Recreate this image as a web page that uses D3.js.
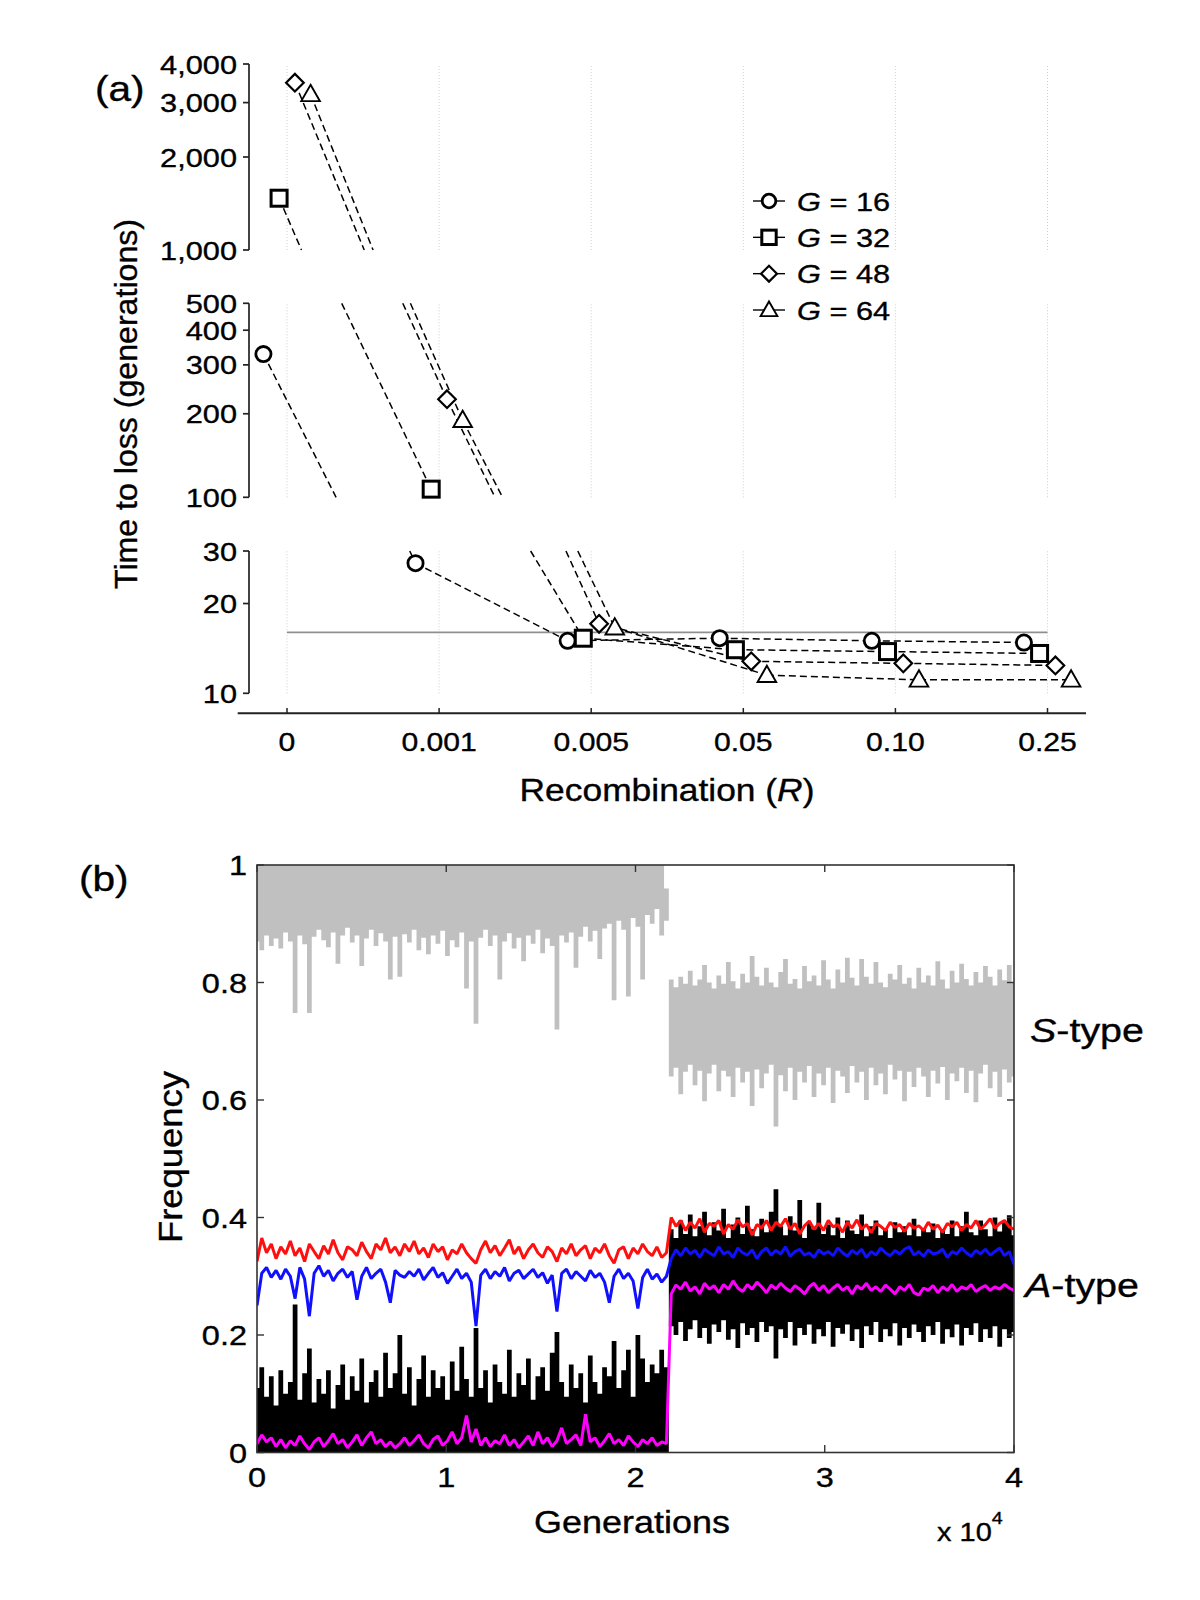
<!DOCTYPE html>
<html><head><meta charset="utf-8">
<script src="https://cdn.jsdelivr.net/npm/d3@7"></script>
<style>
body{margin:0;background:#fff;}
svg{display:block;}
text{font-family:"Liberation Sans",Arial,Helvetica,sans-serif;fill:#000;stroke:#000;stroke-width:0.35px;}
</style>
</head><body>
<svg id="c" width="1200" height="1600"></svg>
<script>
// ================= DATA: panel (a) =================
const recombination = ["0", "0.001", "0.005", "0.05", "0.10", "0.25"];
const groupSizes = ["16", "32", "48", "64"];
const timeG16 = [328, 27.3, 15.0, 15.3, 15.0, 14.8];
const timeG32 = [1471, 107, 15.3, 14.0, 13.8, 13.6];
const timeG48 = [3480, 225.6, 17.1, 12.8, 12.6, 12.4];
const timeG64 = [3191, 189.5, 16.6, 11.5, 11.1, 11.1];
const referenceTime = 16;
const yTicksTop = [1000, 2000, 3000, 4000];
const yTicksMid = [100, 200, 300, 400, 500];
const yTicksLow = [10, 20, 30];

// ================= DATA: panel (b) (frequency x1000, samples spread over 0..40000 generations) =================
const genTicks = [0, 1, 2, 3, 4];          // x 10^4
const freqTicks = [0, 0.2, 0.4, 0.6, 0.8, 1];
const totalGenerations = 40000;
const grayLowPre = [870,855,880,862,875,858,885,870,748,880,
865,748,878,890,872,860,885,832,880,893,
868,880,828,875,890,862,884,870,805,878,
810,882,868,890,855,876,848,880,866,888,
845,872,860,885,790,870,730,876,890,862,
880,805,870,884,858,876,836,880,866,890,
850,875,862,720,880,868,885,825,878,895,
870,888,840,892,900,770,905,890,776,910,
895,805,915,900,925,880,905];
const grayHighPre = [1000,1000,1000,1000,1000,1000,1000,1000,1000,1000,
1000,1000,1000,1000,1000,1000,1000,1000,1000,1000,
1000,1000,1000,1000,1000,1000,1000,1000,1000,1000,
1000,1000,1000,1000,1000,1000,1000,1000,1000,1000,
1000,1000,1000,1000,1000,1000,1000,1000,1000,1000,
1000,1000,1000,1000,1000,1000,1000,1000,1000,1000,
1000,1000,1000,1000,1000,1000,1000,1000,1000,1000,
1000,1000,1000,1000,1000,1000,1000,1000,1000,1000,
1000,1000,1000,1000,1000,1000,960];
const grayLowPost = [640,655,610,648,660,625,650,598,645,660,
615,650,640,605,655,630,648,590,652,620,
645,660,555,642,615,655,600,648,630,658,
605,645,625,655,595,650,640,612,658,630,
648,600,655,625,645,610,660,635,650,598,
648,622,655,640,605,650,628,656,600,645,
632,655,612,650,596,645,660,620,648,605,
652,630,640];
const grayHighPost = [805,792,810,798,820,795,805,830,800,790,
812,798,835,802,790,815,800,845,810,795,
825,800,792,818,840,798,806,790,828,802,
812,795,838,805,790,822,800,842,808,795,
840,810,798,835,800,792,815,805,830,798,
808,790,825,800,812,795,836,805,790,820,
800,832,806,795,818,800,828,810,795,822,
804,830,800];
const blackHighPre = [110,145,95,130,80,140,100,120,252,90,
135,177,85,125,100,140,75,115,150,90,
130,105,160,85,120,140,95,170,110,135,
200,100,145,80,125,165,95,140,110,130,
90,155,105,180,125,95,212,110,140,85,
150,120,100,175,95,135,115,160,90,130,
145,105,170,205,120,95,150,110,135,85,
165,120,100,145,130,190,110,140,175,95,
200,160,120,150,135,175,145];
const blackLowPre = [0,0,0,0,0,0,0,0,0,0,
0,0,0,0,0,0,0,0,0,0,
0,0,0,0,0,0,0,0,0,0,
0,0,0,0,0,0,0,0,0,0,
0,0,0,0,0,0,0,0,0,0,
0,0,0,0,0,0,0,0,0,0,
0,0,0,0,0,0,0,0,0,0,
0,0,0,0,0,0,0,0,0,0,
0,0,0,0,0,0,0];
const blackHighPost = [380,365,395,372,405,368,385,410,370,392,
378,415,365,388,400,372,420,380,368,398,
375,410,448,385,370,402,378,430,365,392,
380,425,372,388,370,400,365,395,378,372,
405,368,385,395,370,380,365,392,375,385,
370,398,368,382,375,390,365,380,372,395,
368,385,410,375,370,395,380,368,400,376,
392,404,370];
const blackLowPost = [215,200,222,190,210,225,195,212,185,218,
205,225,192,210,178,220,200,212,188,222,
205,215,160,210,195,222,182,212,200,218,
185,210,198,222,180,212,202,218,190,210,
178,215,200,222,188,210,198,220,182,212,
195,218,205,188,215,200,222,185,210,196,
218,182,212,200,220,188,210,195,215,180,
210,195,205];
const redPre = [325,365,340,355,330,350,338,360,335,348,
325,355,342,330,352,338,362,340,328,350,
345,335,358,342,330,355,345,365,340,350,
335,355,342,360,338,348,332,355,342,350,
328,345,338,355,340,330,322,345,360,340,
352,335,348,362,338,350,330,345,355,340,
332,350,342,325,348,338,355,335,345,352,
330,348,340,355,335,322,345,350,330,348,
338,355,342,335,350,332,340];
const redPost = [400,385,395,378,392,382,398,375,390,385,
395,372,388,380,396,384,390,370,388,382,
395,378,392,385,398,380,390,372,386,394,
380,390,378,395,384,388,375,392,382,396,
380,388,374,390,385,378,392,383,388,376,
390,382,386,378,392,380,387,375,390,384,
392,378,388,382,395,380,388,398,382,390,
395,384,380];
const bluePre = [250,305,315,298,310,295,312,300,262,315,
295,232,305,318,300,310,292,305,312,298,
308,260,300,315,296,305,312,290,255,310,
302,298,308,300,312,294,305,315,298,306,
288,300,312,296,305,290,215,302,312,296,
308,300,315,292,305,310,296,304,312,298,
306,288,302,240,305,312,296,308,300,292,
310,298,305,290,255,300,312,296,305,292,
245,298,312,295,304,290,300];
const bluePost = [330,345,335,348,338,344,332,346,340,335,
350,338,342,332,348,340,336,345,330,342,
348,336,344,338,350,334,342,346,336,340,
332,345,338,342,335,348,340,334,344,338,
346,332,342,336,348,340,335,344,338,346,
350,336,342,334,345,338,340,346,332,342,
338,348,340,334,344,338,346,336,342,348,
335,342,320];
const magentaPre = [15,30,18,25,10,22,8,20,12,28,
15,5,18,25,10,20,32,15,22,8,
18,30,12,25,35,15,22,10,18,8,
15,25,12,20,30,15,8,22,28,12,
20,35,15,25,63,18,40,12,25,10,
20,15,30,12,22,8,18,28,12,35,
15,25,10,20,42,15,22,30,12,65,
18,25,10,20,32,15,22,12,28,18,
10,22,15,25,12,18,15];
const magentaPost = [270,285,278,290,275,282,270,288,278,284,
272,286,278,292,280,274,286,278,290,282,
272,285,278,288,280,274,284,278,270,282,
288,276,284,272,280,286,276,282,270,284,
278,288,276,282,274,285,278,270,282,276,
286,272,268,280,276,284,272,282,276,286,
274,282,278,286,274,280,284,276,282,278,
286,280,276];

// ================= DRAWING =================
const svg = d3.select("#c");
const SX = 1.16; // horizontal stretch of the original lettering

function addText(parent, x, y, parts, size, anchor, opt) {
  opt = opt || {};
  const t = parent.append("text")
    .attr("transform", opt.rotate ? `translate(${x},${y}) rotate(-90)` : `translate(${x},${y}) scale(${opt.sx || SX},1)`)
    .attr("font-size", size)
    .attr("text-anchor", anchor || "start");
  if (opt.len) t.attr("textLength", opt.len).attr("lengthAdjust", "spacingAndGlyphs");
  if (typeof parts === "string") parts = [[parts, false]];
  parts.forEach(p => {
    const s = t.append("tspan").text(p[0]);
    if (p[1]) s.attr("font-style", "italic");
    if (p[2]) s.attr("font-size", p[2]).attr("dy", p[3] || 0);
  });
  return t;
}

// ---------- Panel (a) ----------
const gA = svg.append("g");
const segs = [
  { dom: [1000, 4000], rng: [250, 64], ticks: yTicksTop },
  { dom: [100, 500], rng: [497.3, 303.3], ticks: yTicksMid },
  { dom: [10, 30], rng: [693.3, 551], ticks: yTicksLow }
];
segs.forEach(s => { s.scale = d3.scaleLog().domain(s.dom).range(s.rng); s.lo = Math.log10(s.dom[0]); s.hi = Math.log10(s.dom[1]); });
const xa = d3.scalePoint().domain(recombination).range([287, 1047.5]);
const step = xa.step();
const offsets = [-0.155, -0.052, 0.052, 0.155];
const seriesList = [timeG16, timeG32, timeG48, timeG64];
const shapes = ["circle", "square", "diamond", "triangle"];

function segOf(v) {
  const l = Math.log10(v);
  return segs.find(s => l >= s.lo - 1e-9 && l <= s.hi + 1e-9);
}

// grid
segs.forEach(s => {
  gA.selectAll(null).data(recombination).enter().append("line")
    .attr("x1", d => xa(d)).attr("x2", d => xa(d))
    .attr("y1", s.rng[0]).attr("y2", s.rng[1])
    .attr("stroke", "#cfcfcf").attr("stroke-width", 1).attr("stroke-dasharray", "1,2");
});

// y axes (broken)
const fmt = d3.format(",");
segs.forEach(s => {
  gA.append("line").attr("x1", 249).attr("x2", 249).attr("y1", s.rng[0]).attr("y2", s.rng[1])
    .attr("stroke", "#222").attr("stroke-width", 1.7);
  s.ticks.forEach(t => {
    const y = s.scale(t);
    gA.append("line").attr("x1", 243).attr("x2", 249).attr("y1", y).attr("y2", y).attr("stroke", "#222").attr("stroke-width", 1.7);
    addText(gA, 237, y + 9.5, fmt(t), 26.5, "end");
  });
});

// x axis
gA.append("line").attr("x1", 237.7).attr("x2", 1086).attr("y1", 713.3).attr("y2", 713.3).attr("stroke", "#222").attr("stroke-width", 2);
recombination.forEach(r => {
  gA.append("line").attr("x1", xa(r)).attr("x2", xa(r)).attr("y1", 713.3).attr("y2", 708).attr("stroke", "#222").attr("stroke-width", 1.5);
  addText(gA, xa(r), 750.5, r, 26, "middle");
});
addText(gA, 667, 801, [["Recombination (", false], ["R", true], [")", false]], 30.5, "middle");
addText(gA, 136.5, 404, "Time to loss (generations)", 31, "middle", { rotate: true, len: 370 });
addText(gA, 95, 100.5, "(a)", 35, "start");

// reference line
const yRef = segs[2].scale(referenceTime);
gA.append("line").attr("x1", xa(recombination[0])).attr("x2", xa(recombination[recombination.length - 1]))
  .attr("y1", yRef).attr("y2", yRef).attr("stroke", "#8f8f8f").attr("stroke-width", 1.8);

// dashed connecting lines, straight in (x, log T) and clipped to each axis segment
const gLines = gA.append("g").attr("fill", "none").attr("stroke", "#000").attr("stroke-width", 1.5).attr("stroke-dasharray", "7,4");
seriesList.forEach((ser, k) => {
  const pts = recombination.map((r, j) => ({ x: xa(r) + offsets[k] * step, l: Math.log10(ser[j]) }));
  for (let j = 0; j < pts.length - 1; j++) {
    const p = pts[j], q = pts[j + 1];
    segs.forEach(s => {
      let ta, tb;
      if (Math.abs(q.l - p.l) < 1e-12) {
        if (p.l < s.lo || p.l > s.hi) return;
        ta = 0; tb = 1;
      } else {
        const t1 = (s.lo - p.l) / (q.l - p.l), t2 = (s.hi - p.l) / (q.l - p.l);
        ta = Math.max(0, Math.min(t1, t2)); tb = Math.min(1, Math.max(t1, t2));
      }
      if (tb - ta < 1e-6) return;
      const A = { x: p.x + ta * (q.x - p.x), y: s.scale(Math.pow(10, p.l + ta * (q.l - p.l))) };
      const B = { x: p.x + tb * (q.x - p.x), y: s.scale(Math.pow(10, p.l + tb * (q.l - p.l))) };
      gLines.append("line").attr("x1", A.x).attr("y1", A.y).attr("x2", B.x).attr("y2", B.y);
    });
  }
});

function drawMarker(g, shape, x, y, f) {
  f = f || 1;
  if (shape === "circle") {
    g.append("circle").attr("cx", x).attr("cy", y).attr("r", 7.6 * f)
      .attr("fill", "#fff").attr("stroke", "#000").attr("stroke-width", 2.8);
  } else if (shape === "square") {
    const h = 8 * f;
    g.append("rect").attr("x", x - h).attr("y", y - h).attr("width", 2 * h).attr("height", 2 * h)
      .attr("fill", "#fff").attr("stroke", "#000").attr("stroke-width", 3);
  } else if (shape === "diamond") {
    const h = 8.8 * f;
    g.append("path").attr("d", `M${x},${y - h}L${x + h},${y}L${x},${y + h}L${x - h},${y}Z`)
      .attr("fill", "#fff").attr("stroke", "#000").attr("stroke-width", 2.2);
  } else {
    const w = 9.3 * f, t = 9.5 * f, b = 6.8 * f;
    g.append("path").attr("d", `M${x},${y - t}L${x + w},${y + b}L${x - w},${y + b}Z`)
      .attr("fill", "#fff").attr("stroke", "#000").attr("stroke-width", 1.9);
  }
}
seriesList.forEach((ser, k) => {
  recombination.forEach((r, j) => {
    const s = segOf(ser[j]);
    drawMarker(gA, shapes[k], xa(r) + offsets[k] * step, s.scale(ser[j]));
  });
});

// legend
const legY = d3.scalePoint().domain(groupSizes).range([201, 310]);
groupSizes.forEach((gs, k) => {
  const y = legY(gs);
  gA.append("line").attr("x1", 753).attr("x2", 785).attr("y1", y).attr("y2", y).attr("stroke", "#000").attr("stroke-width", 1.4);
  drawMarker(gA, shapes[k], 769, y, 0.9);
  addText(gA, 797, y + 9.5, [["G", true], [" = " + gs, false]], 26.5, "start");
});

// ---------- Panel (b) ----------
const gB = svg.append("g");
const xb = d3.scaleLinear().domain([0, totalGenerations]).range([257, 1014]);
const yb = d3.scaleLinear().domain([0, 1]).range([1452.5, 865]);
const grayLow = grayLowPre.concat(grayLowPost), grayHigh = grayHighPre.concat(grayHighPost);
const blackLow = blackLowPre.concat(blackLowPost), blackHigh = blackHighPre.concat(blackHighPost);
const red = redPre.concat(redPost), blue = bluePre.concat(bluePost), magenta = magentaPre.concat(magentaPost);
const nS = grayLow.length;
const genAt = i => i * totalGenerations / (nS - 1);

svg.append("defs").append("clipPath").attr("id", "clipB").append("rect")
  .attr("x", 257).attr("y", 865).attr("width", 1014 - 257).attr("height", 1452.5 - 865);
const plot = gB.append("g").attr("clip-path", "url(#clipB)");
const idx = d3.range(nS);

const band = (lo, hi) => d3.area().curve(d3.curveStep).x(i => xb(genAt(i))).y0(i => yb(lo[i] / 1000)).y1(i => yb(hi[i] / 1000));
plot.append("path").attr("d", band(grayLow, grayHigh)(idx)).attr("fill", "#c0c0c0");
plot.append("path").attr("d", band(blackLow, blackHigh)(idx)).attr("fill", "#000");
const ln = arr => d3.line().x(i => xb(genAt(i))).y(i => yb(arr[i] / 1000));
plot.append("path").attr("d", ln(red)(idx)).attr("fill", "none").attr("stroke", "#ff1010").attr("stroke-width", 3).attr("stroke-linejoin", "bevel");
plot.append("path").attr("d", ln(blue)(idx)).attr("fill", "none").attr("stroke", "#1010ff").attr("stroke-width", 3).attr("stroke-linejoin", "bevel");
plot.append("path").attr("d", ln(magenta)(idx)).attr("fill", "none").attr("stroke", "#ff00ff").attr("stroke-width", 3).attr("stroke-linejoin", "bevel");

// frame and ticks
gB.append("rect").attr("x", 257).attr("y", 865).attr("width", 1014 - 257).attr("height", 1452.5 - 865)
  .attr("fill", "none").attr("stroke", "#333").attr("stroke-width", 1.6);
genTicks.forEach(t => {
  const x = xb(t * 1e4);
  gB.append("line").attr("x1", x).attr("x2", x).attr("y1", 1452.5).attr("y2", 1445).attr("stroke", "#333").attr("stroke-width", 1.4);
  gB.append("line").attr("x1", x).attr("x2", x).attr("y1", 865).attr("y2", 872).attr("stroke", "#333").attr("stroke-width", 1.4);
  addText(gB, x, 1487, String(t), 28, "middle");
});
freqTicks.forEach(t => {
  const y = yb(t);
  gB.append("line").attr("x1", 257).attr("x2", 264).attr("y1", y).attr("y2", y).attr("stroke", "#333").attr("stroke-width", 1.4);
  gB.append("line").attr("x1", 1014).attr("x2", 1007).attr("y1", y).attr("y2", y).attr("stroke", "#333").attr("stroke-width", 1.4);
  addText(gB, 247, y + 10, String(t), 28, "end");
});
addText(gB, 632, 1533, "Generations", 31, "middle");
addText(gB, 937, 1541, [["x 10", false], ["4", false, 17, -17]], 25, "start");
addText(gB, 182, 1157, "Frequency", 33, "middle", { rotate: true, len: 172 });
addText(gB, 79, 891, "(b)", 35, "start");
addText(gB, 1030, 1042, [["S", true], ["-type", false]], 34, "start");
addText(gB, 1025, 1297, [["A", true], ["-type", false]], 34, "start");
</script>
</body></html>
